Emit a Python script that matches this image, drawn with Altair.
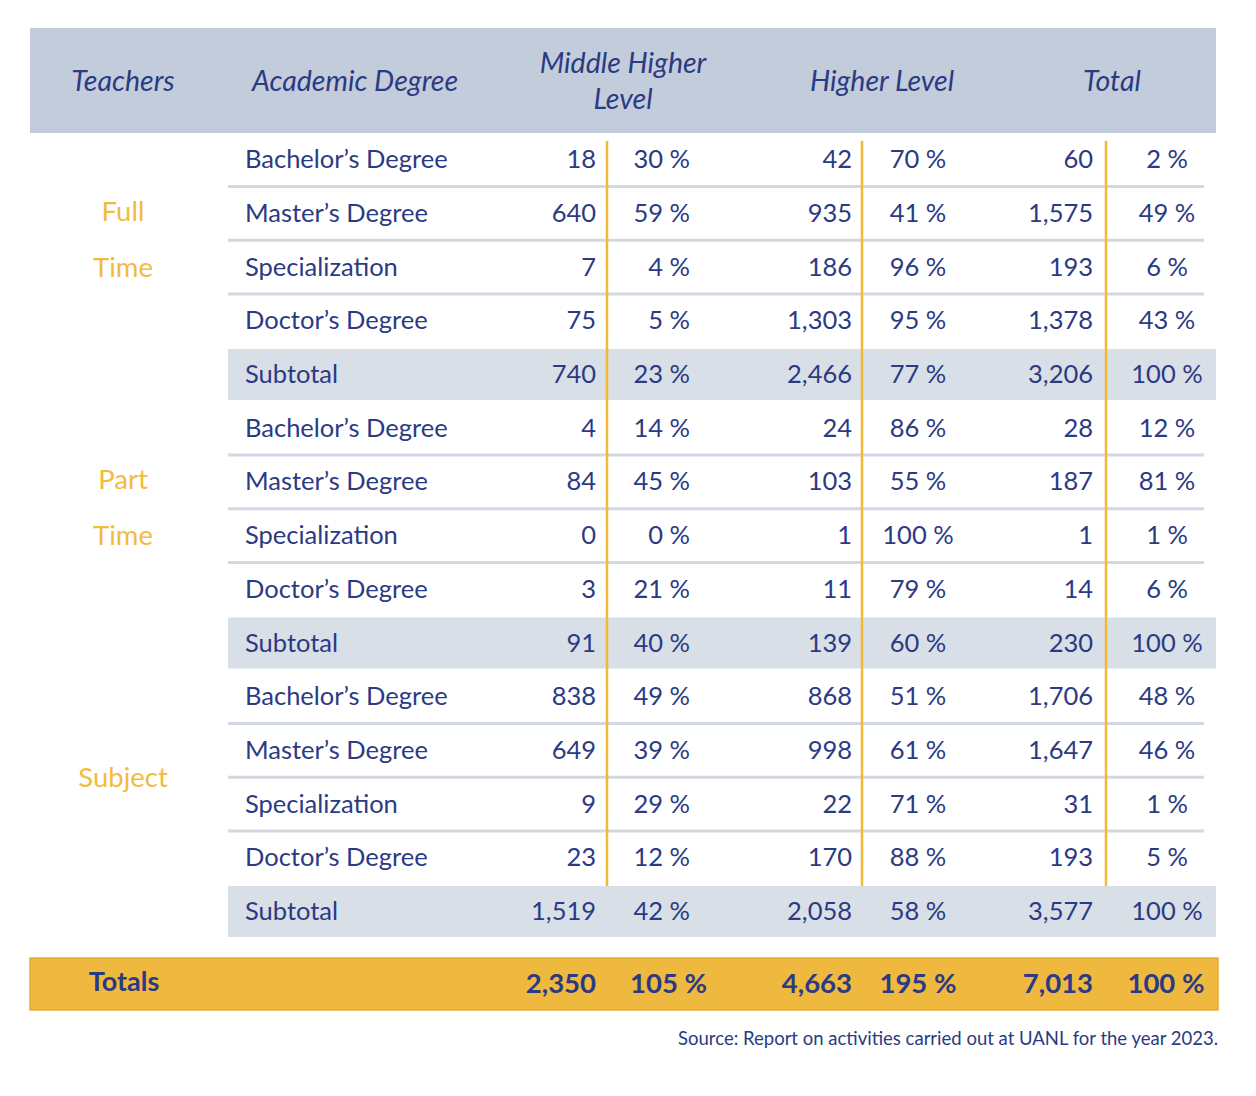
import altair as alt
import pandas as pd

# ---------------- data ----------------
HEADERS = ["Teachers", "Academic Degree", "Middle Higher\nLevel", "Higher Level", "Total"]
GROUPS = ["Full\nTime", "Part\nTime", "Subject"]
DEGREES = ["Bachelor’s Degree", "Master’s Degree", "Specialization", "Doctor’s Degree", "Subtotal"]

MH_COUNT = [18, 640, 7, 75, 740, 4, 84, 0, 3, 91, 838, 649, 9, 23, 1519]
MH_PCT = [30, 59, 4, 5, 23, 14, 45, 0, 21, 40, 49, 39, 29, 12, 42]
HL_COUNT = [42, 935, 186, 1303, 2466, 24, 103, 1, 11, 139, 868, 998, 22, 170, 2058]
HL_PCT = [70, 41, 96, 95, 77, 86, 55, 100, 79, 60, 51, 61, 71, 88, 58]
TOT_COUNT = [60, 1575, 193, 1378, 3206, 28, 187, 1, 14, 230, 1706, 1647, 31, 193, 3577]
TOT_PCT = [2, 49, 6, 43, 100, 12, 81, 1, 6, 100, 48, 46, 1, 5, 100]

TOTALS_LABEL = "Totals"
TOTALS = [2350, 105, 4663, 195, 7013, 100]
SOURCE = "Source: Report on activities carried out at UANL for the year 2023."

# ---------------- layout / style ----------------
OFF = 8
W, H = 1240, 1080
NAVY = "#2b3a84"
YELLOW = "#f2bb3e"
HEADER_BG = "#c3ccda"
SUB_BG = "#d9dfe7"
SEP = "#d2d8e2"
TOT_BG = "#efb83e"
TOT_STROKE = "#e2ab38"
FONT = "Lato"

ROW_TOP0, PITCH = 133.2, 53.7
N_ROWS = len(MH_COUNT)


def rt(i):
    return ROW_TOP0 + i * PITCH


def rc(i):
    return rt(i) + 27


def fmt(n):
    return f"{n:,}"


def pct(n):
    return f"{n} %"


xs = alt.Scale(domain=[0, W], nice=False, zero=False)
ys = alt.Scale(domain=[0, H], nice=False, zero=False, reverse=True)


def X(f):
    return alt.X(f, type="quantitative", scale=xs, axis=None)


def Y(f):
    return alt.Y(f, type="quantitative", scale=ys, axis=None)


def rects(rows, fill, stroke=None, sw=0):
    df = pd.DataFrame([{"x0": a - OFF, "x1": b - OFF, "y0": c - OFF, "y1": d - OFF} for a, b, c, d in rows])
    kw = dict(fill=fill)
    if stroke:
        kw.update(stroke=stroke, strokeWidth=sw)
    return alt.Chart(df).mark_rect(**kw).encode(x=X("x0"), x2="x1", y=Y("y0"), y2="y1")


def rules(rows, color, width):
    df = pd.DataFrame([{"x0": a - OFF, "x1": b - OFF, "y0": c - OFF, "y1": d - OFF} for a, b, c, d in rows])
    return alt.Chart(df).mark_rule(color=color, strokeWidth=width).encode(
        x=X("x0"), x2="x1", y=Y("y0"), y2="y1")


def texts(items, align, size, color=NAVY, weight="normal", style="normal"):
    df = pd.DataFrame([{"x": x - OFF, "y": y - OFF, "t": t} for x, y, t in items])
    return alt.Chart(df).mark_text(
        align=align, baseline="middle", font=FONT, fontSize=size, color=color,
        fontWeight=weight, fontStyle=style).encode(x=X("x"), y=Y("y"), text="t:N")


layers = []

# backgrounds
layers.append(rects([(30, 1216, 28, 133)], HEADER_BG))
sub_rows = [i for i in range(N_ROWS) if i % 5 == 4]
layers.append(rects([(228, 1216, rt(i) + 1, rt(i) + 52) for i in sub_rows], SUB_BG))
layers.append(rects([(30, 1218, 958, 1010)], TOT_BG, TOT_STROKE, 1.5))

# separators between degree rows
seps = []
for i in range(N_ROWS):
    if i % 5 in (0, 1, 2):
        y = (rc(i) + rc(i + 1)) / 2 - 0.5
        seps.append((228, 1204, y, y))
layers.append(rules(seps, SEP, 3))

# yellow vertical dividers
vy0, vy1 = 141, rt(14) + 1
layers.append(rules([(x, x, vy0, vy1) for x in (607, 862, 1106)], "#f1b935", 2.5))

# header texts
hx = [123, 355, 623, 882, 1112]
hitems = []
for x, h in zip(hx, HEADERS):
    parts = h.split("\n")
    if len(parts) == 1:
        hitems.append((x, 82, parts[0]))
    else:
        hitems.append((x, 64, parts[0]))
        hitems.append((x, 100, parts[1]))
layers.append(texts(hitems, "center", 28.5, style="italic"))

# group labels
gitems = []
for g, name in enumerate(GROUPS):
    cy = (rt(g * 5) + rt(g * 5 + 4)) / 2
    parts = name.split("\n")
    if len(parts) == 1:
        gitems.append((123, cy + 1, parts[0]))
    else:
        gitems.append((123, cy - 28, parts[0]))
        gitems.append((123, cy + 28, parts[1]))
layers.append(texts(gitems, "center", 27.5, color=YELLOW))

# body
left_items, right_items, center_items = [], [], []
for i in range(N_ROWS):
    y = rc(i)
    left_items.append((245, y, DEGREES[i % 5]))
    right_items.append((596, y, fmt(MH_COUNT[i])))
    right_items.append((690, y, pct(MH_PCT[i])))
    right_items.append((852, y, fmt(HL_COUNT[i])))
    center_items.append((918, y, pct(HL_PCT[i])))
    right_items.append((1093, y, fmt(TOT_COUNT[i])))
    center_items.append((1167, y, pct(TOT_PCT[i])))
layers.append(texts(left_items, "left", 25.5))
layers.append(texts(right_items, "right", 25.5))
layers.append(texts(center_items, "center", 25.5))

# totals row
ty = 985
layers.append(texts([(124, 983, TOTALS_LABEL)], "center", 27, weight="bold"))
layers.append(texts([(596, ty, fmt(TOTALS[0])), (852, ty, fmt(TOTALS[2])), (1093, ty, fmt(TOTALS[4]))],
                    "right", 27.5, weight="bold"))
layers.append(texts([(630, ty, pct(TOTALS[1]))], "left", 27.5, weight="bold"))
layers.append(texts([(918, ty, pct(TOTALS[3])), (1166, ty, pct(TOTALS[5]))], "center", 27.5, weight="bold"))

# source
layers.append(texts([(1218, 1039, SOURCE)], "right", 18.5))

chart = alt.layer(*layers).properties(
    width=W, height=H, padding=0, autosize=alt.AutoSizeParams(type="none"), background="white"
).configure_view(stroke=None)

chart.save("out.html", embed_options={"renderer": "svg", "actions": False})
